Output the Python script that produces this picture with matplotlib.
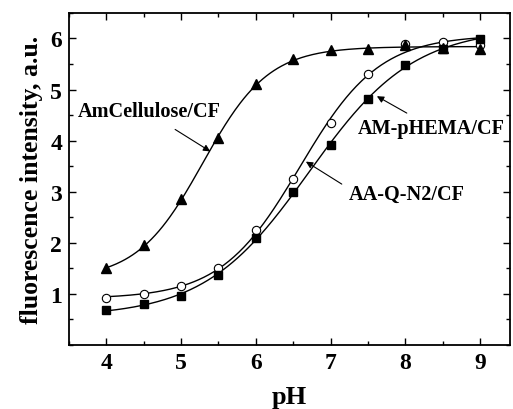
import numpy as np
import matplotlib
matplotlib.use("Agg")
import matplotlib.pyplot as plt
from matplotlib.ticker import MultipleLocator

# pH titration data
ph = [4.0, 4.5, 5.0, 5.5, 6.0, 6.5, 7.0, 7.5, 8.0, 8.5, 9.0]
amcellulose = [1.50, 1.95, 2.85, 4.05, 5.10, 5.59, 5.77, 5.79, 5.88, 5.82, 5.80]
aa_q_n2 = [0.93, 0.99, 1.15, 1.50, 2.25, 3.25, 4.35, 5.30, 5.90, 5.94, 5.88]
am_phema = [0.68, 0.81, 0.96, 1.38, 2.09, 2.99, 3.92, 4.81, 5.48, 5.80, 5.99]

x_ticks = [4, 5, 6, 7, 8, 9]
y_ticks = [1, 2, 3, 4, 5, 6]


def boltzmann_fit(x, y):
    """Least-squares Boltzmann sigmoid: y = A2 + (A1 - A2) / (1 + exp((x - x0) / dx))."""
    x = np.asarray(x, float)
    y = np.asarray(y, float)
    best = None
    for x0 in np.arange(4.0, 8.5, 0.01):
        for dx in np.arange(0.15, 1.5, 0.01):
            s = 1.0 / (1.0 + np.exp((x - x0) / dx))
            M = np.column_stack([s, 1 - s])
            coef, *_ = np.linalg.lstsq(M, y, rcond=None)
            r = np.sum((M @ coef - y) ** 2)
            if best is None or r < best[0]:
                best = (r, coef[0], coef[1], x0, dx)
    _, a1, a2, x0, dx = best
    return lambda t: a2 + (a1 - a2) / (1.0 + np.exp((t - x0) / dx))


plt.rcParams["font.family"] = ["Liberation Serif", "DejaVu Serif"]
plt.rcParams["font.weight"] = "bold"

fig = plt.figure(figsize=(5.13, 4.10), dpi=100)
ax = fig.add_axes([0.1345, 0.156, 0.8595, 0.81])

xs = np.linspace(4, 9, 300)
series = [
    (aa_q_n2, dict(marker="o", ms=6, mfc="white", mec="black", mew=0.8), 3),
    (am_phema, dict(marker="s", ms=5.5, mfc="black", mec="black"), 4),
    (amcellulose, dict(marker="^", ms=7, mfc="black", mec="black"), 5),
]
for vals, style, z in series:
    f = boltzmann_fit(ph, vals)
    ax.plot(xs, f(xs), color="black", lw=1.0, zorder=2)
    ax.plot(ph, vals, ls="none", zorder=z, **style)

ax.set_xlim(3.5, 9.4)
ax.set_ylim(0, 6.5)
ax.set_xticks(x_ticks)
ax.set_yticks(y_ticks)
ax.xaxis.set_minor_locator(MultipleLocator(0.5))
ax.yaxis.set_minor_locator(MultipleLocator(0.5))
ax.tick_params(which="both", direction="in", top=True, right=True, width=1.0,
               labelsize=17, pad=5)
ax.tick_params(which="major", length=5)
ax.tick_params(which="minor", length=3)
for lab in ax.get_xticklabels() + ax.get_yticklabels():
    lab.set_fontweight("bold")
for sp in ax.spines.values():
    sp.set_linewidth(1.3)

ax.set_xlabel("pH", fontsize=19, fontweight="bold", labelpad=9)
ax.set_ylabel("fluorescence intensity, a.u.", fontsize=18.5, fontweight="bold", labelpad=5)

arrow = dict(arrowstyle="-|>", color="black", lw=0.8, mutation_scale=10,
             shrinkA=0, shrinkB=0)
ax.text(3.62, 4.59, "AmCellulose/CF", fontsize=14.6, fontweight="bold",
        ha="left", va="center")
ax.annotate("", xy=(5.39, 3.79), xytext=(4.92, 4.22), arrowprops=arrow)

ax.text(7.36, 4.25, "AM-pHEMA/CF", fontsize=14.6, fontweight="bold",
        ha="left", va="center")
ax.annotate("", xy=(7.62, 4.87), xytext=(8.02, 4.54), arrowprops=arrow)

ax.text(7.24, 2.95, "AA-Q-N2/CF", fontsize=14.6, fontweight="bold",
        ha="left", va="center")
ax.annotate("", xy=(6.67, 3.59), xytext=(7.15, 3.15), arrowprops=arrow)

fig.savefig("out.png", dpi=100)
